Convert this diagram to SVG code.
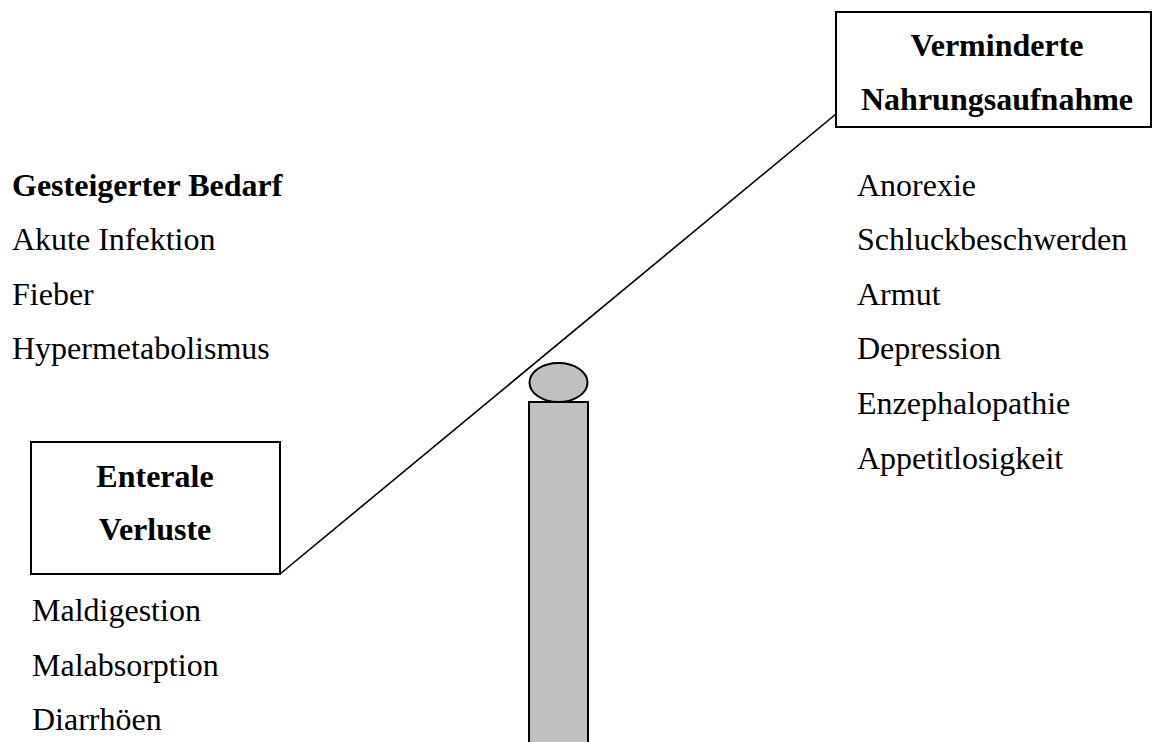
<svg xmlns="http://www.w3.org/2000/svg" width="1152" height="742" viewBox="0 0 1152 742">
<style>
text{font-family:"Liberation Serif","Times New Roman",serif;font-size:32px;fill:#000}
.b{font-weight:bold}
.m{text-anchor:middle}
.box{fill:#fff;stroke:#000;stroke-width:2}
.conn{stroke:#000;stroke-width:1.6;fill:none}
.pil{fill:#c0c0c0;stroke:#000;stroke-width:2}
</style>
<rect width="1152" height="742" fill="#fff"/>
<g id="connectors">
<line class="conn" x1="280" y1="574" x2="836" y2="114"/>
</g>
<g id="node-verminderte">
<rect class="box" x="836" y="12" width="315" height="115"/>
<text class="b m" x="997" y="56">Verminderte</text>
<text class="b m" x="997" y="110">Nahrungsaufnahme</text>
</g>
<g id="node-enterale">
<rect class="box" x="31" y="442" width="249" height="132"/>
<text class="b m" x="155" y="487">Enterale</text>
<text class="b m" x="155" y="540">Verluste</text>
</g>
<g id="list-bedarf">
<text class="b" x="12" y="196">Gesteigerter Bedarf</text>
<text x="12" y="250">Akute Infektion</text>
<text x="12" y="305">Fieber</text>
<text x="12" y="359">Hypermetabolismus</text>
</g>
<g id="list-nahrung">
<text x="857" y="196">Anorexie</text>
<text x="857" y="250">Schluckbeschwerden</text>
<text x="857" y="305">Armut</text>
<text x="857" y="359">Depression</text>
<text x="857" y="414">Enzephalopathie</text>
<text x="857" y="469">Appetitlosigkeit</text>
</g>
<g id="list-verluste">
<text x="32" y="621">Maldigestion</text>
<text x="32" y="676">Malabsorption</text>
<text x="32" y="730">Diarrhöen</text>
</g>
<g id="pillar">
<rect class="pil" x="529" y="402" width="59" height="345"/>
<ellipse class="pil" cx="558.5" cy="382.5" rx="29" ry="19.5"/>
</g>
</svg>
